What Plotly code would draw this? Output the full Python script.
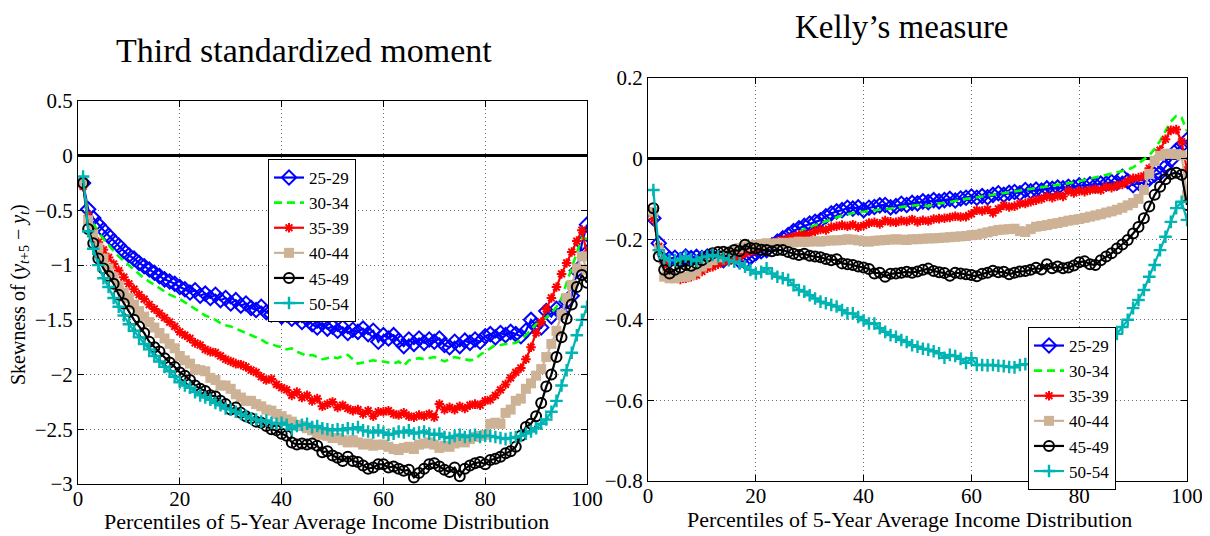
import plotly.graph_objects as go

# ---------------- data ----------------
percentiles = list(range(1, 101))
age_groups = ["25-29", "30-34", "35-39", "40-44", "45-49", "50-54"]

# Left panel: third standardized moment
third_25_29 = [-0.25, -0.49, -0.57, -0.63, -0.68, -0.73, -0.78, -0.82, -0.87, -0.91,
               -0.94, -0.98, -1.01, -1.04, -1.07, -1.10, -1.13, -1.15, -1.17, -1.20,
               -1.22, -1.25, -1.23, -1.28, -1.26, -1.30, -1.27, -1.32, -1.30, -1.35,
               -1.32, -1.37, -1.35, -1.39, -1.41, -1.38, -1.43, -1.45, -1.42, -1.47,
               -1.45, -1.49, -1.47, -1.52, -1.49, -1.54, -1.57, -1.53, -1.58, -1.56,
               -1.60, -1.57, -1.62, -1.59, -1.61, -1.58, -1.63, -1.60, -1.70, -1.64,
               -1.67, -1.64, -1.69, -1.74, -1.68, -1.72, -1.67, -1.71, -1.68, -1.70,
               -1.67, -1.73, -1.75, -1.70, -1.74, -1.69, -1.71, -1.68, -1.70, -1.65,
               -1.63, -1.66, -1.62, -1.64, -1.61, -1.63, -1.65, -1.60, -1.50, -1.55,
               -1.57, -1.42, -1.47, -1.40, -1.44, -1.33, -1.28, -1.05, -0.80, -0.63]
third_30_34 = [-0.28, -0.52, -0.62, -0.70, -0.76, -0.82, -0.87, -0.92, -0.96, -1.00,
               -1.04, -1.08, -1.12, -1.15, -1.18, -1.21, -1.24, -1.27, -1.29, -1.31,
               -1.34, -1.37, -1.40, -1.43, -1.46, -1.48, -1.50, -1.53, -1.55, -1.56,
               -1.58, -1.60, -1.62, -1.64, -1.66, -1.68, -1.71, -1.72, -1.74, -1.75,
               -1.77, -1.76, -1.79, -1.81, -1.83, -1.82, -1.84, -1.86, -1.85, -1.84,
               -1.85, -1.83, -1.82, -1.86, -1.90, -1.89, -1.88, -1.87, -1.88, -1.88,
               -1.89, -1.90, -1.88, -1.92, -1.87, -1.86, -1.85, -1.86, -1.85, -1.84,
               -1.86, -1.88, -1.86, -1.84, -1.85, -1.86, -1.87, -1.86, -1.82, -1.79,
               -1.76, -1.73, -1.73, -1.72, -1.72, -1.71, -1.68, -1.64, -1.59, -1.54,
               -1.51, -1.48, -1.44, -1.38, -1.30, -1.16, -1.02, -0.87, -0.75, -0.76]
third_35_39 = [-0.28, -0.55, -0.70, -0.79, -0.86, -0.93, -0.99, -1.05, -1.11, -1.17,
               -1.22, -1.27, -1.31, -1.36, -1.40, -1.44, -1.48, -1.52, -1.56, -1.61,
               -1.64, -1.67, -1.71, -1.73, -1.77, -1.79, -1.80, -1.83, -1.86, -1.88,
               -1.90, -1.91, -1.93, -1.96, -1.98, -2.02, -2.05, -2.04, -2.09, -2.12,
               -2.14, -2.19, -2.16, -2.21, -2.19, -2.24, -2.22, -2.29, -2.27, -2.25,
               -2.30, -2.28, -2.31, -2.33, -2.32, -2.36, -2.33, -2.38, -2.34, -2.34,
               -2.33, -2.36, -2.37, -2.35, -2.38, -2.39, -2.37, -2.38, -2.36, -2.39,
               -2.27, -2.32, -2.30, -2.32, -2.29, -2.31, -2.28, -2.27, -2.28, -2.24,
               -2.23, -2.19, -2.14, -2.09, -2.03, -1.98, -1.94, -1.86, -1.75, -1.62,
               -1.52, -1.40, -1.30, -1.20, -1.08, -0.98, -0.88, -0.78, -0.68, -0.90]
third_40_44 = [-0.25, -0.59, -0.72, -0.84, -0.94, -1.03, -1.11, -1.19, -1.25, -1.30,
               -1.36, -1.42, -1.47, -1.52, -1.57, -1.62, -1.67, -1.72, -1.76, -1.83,
               -1.87, -1.90, -1.95, -1.96, -1.97, -2.03, -2.05, -2.10, -2.10, -2.13,
               -2.18, -2.21, -2.24, -2.24, -2.27, -2.29, -2.32, -2.33, -2.36, -2.38,
               -2.41, -2.43, -2.46, -2.47, -2.49, -2.51, -2.54, -2.55, -2.56, -2.58,
               -2.58, -2.60, -2.62, -2.60, -2.62, -2.64, -2.63, -2.65, -2.64, -2.64,
               -2.66, -2.68, -2.69, -2.67, -2.66, -2.68, -2.64, -2.63, -2.62, -2.64,
               -2.67, -2.65, -2.66, -2.63, -2.61, -2.62, -2.59, -2.57, -2.56, -2.55,
               -2.45, -2.44, -2.45, -2.35, -2.32, -2.24, -2.22, -2.13, -2.08, -2.01,
               -1.95, -1.84, -1.72, -1.60, -1.45, -1.30, -1.18, -1.03, -0.92, -1.04]
third_45_49 = [-0.25, -0.67, -0.80, -0.94, -1.03, -1.10, -1.17, -1.27, -1.35, -1.42,
               -1.50, -1.56, -1.62, -1.70, -1.75, -1.79, -1.85, -1.89, -1.93, -1.98,
               -2.01, -2.05, -2.10, -2.13, -2.15, -2.19, -2.20, -2.24, -2.27, -2.32,
               -2.30, -2.35, -2.38, -2.40, -2.43, -2.44, -2.47, -2.50, -2.51, -2.54,
               -2.56, -2.62, -2.64, -2.63, -2.64, -2.63, -2.65, -2.71, -2.70, -2.74,
               -2.76, -2.79, -2.75, -2.79, -2.80, -2.83, -2.86, -2.85, -2.82, -2.82,
               -2.85, -2.84, -2.86, -2.88, -2.87, -2.94, -2.90, -2.86, -2.82, -2.81,
               -2.84, -2.87, -2.89, -2.85, -2.93, -2.86, -2.83, -2.81, -2.80, -2.82,
               -2.78, -2.77, -2.75, -2.72, -2.70, -2.66, -2.56, -2.48, -2.45, -2.38,
               -2.26, -2.11, -2.00, -1.84, -1.66, -1.49, -1.36, -1.20, -1.09, -1.16]
third_50_54 = [-0.19, -0.69, -0.85, -1.00, -1.12, -1.20, -1.30, -1.38, -1.46, -1.54,
               -1.60, -1.66, -1.72, -1.77, -1.83, -1.88, -1.93, -1.97, -2.02, -2.07,
               -2.10, -2.12, -2.16, -2.19, -2.21, -2.23, -2.26, -2.28, -2.31, -2.32,
               -2.34, -2.36, -2.38, -2.40, -2.41, -2.43, -2.42, -2.44, -2.45, -2.44,
               -2.46, -2.50, -2.47, -2.46, -2.45, -2.48, -2.47, -2.49, -2.50, -2.51,
               -2.50, -2.51, -2.49, -2.50, -2.48, -2.51, -2.52, -2.53, -2.51, -2.53,
               -2.55, -2.54, -2.52, -2.53, -2.51, -2.54, -2.53, -2.52, -2.54, -2.55,
               -2.54, -2.57, -2.58, -2.56, -2.55, -2.57, -2.56, -2.55, -2.57, -2.56,
               -2.56, -2.57, -2.58, -2.59, -2.58, -2.57, -2.56, -2.54, -2.52, -2.49,
               -2.45, -2.41, -2.34, -2.24, -2.10, -1.96, -1.80, -1.64, -1.50, -1.38]

# Right panel: Kelly's measure
kelly_25_29 = [-0.148, -0.210, -0.235, -0.248, -0.246, -0.252, -0.243, -0.247, -0.244, -0.247,
               -0.243, -0.244, -0.250, -0.252, -0.246, -0.243, -0.254, -0.256, -0.245, -0.235,
               -0.230, -0.227, -0.215, -0.206, -0.198, -0.190, -0.180, -0.173, -0.167, -0.161,
               -0.157, -0.153, -0.143, -0.136, -0.131, -0.128, -0.122, -0.124, -0.121, -0.128,
               -0.122, -0.120, -0.116, -0.115, -0.121, -0.118, -0.112, -0.115, -0.110, -0.111,
               -0.106, -0.108, -0.103, -0.106, -0.103, -0.100, -0.104, -0.099, -0.097, -0.094,
               -0.097, -0.093, -0.096, -0.090, -0.086, -0.090, -0.085, -0.083, -0.086, -0.078,
               -0.081, -0.077, -0.079, -0.074, -0.075, -0.072, -0.074, -0.070, -0.072, -0.066,
               -0.068, -0.064, -0.066, -0.062, -0.062, -0.058, -0.060, -0.045, -0.056, -0.066,
               -0.060, -0.060, -0.050, -0.040, -0.036, -0.020, -0.004, 0.020, 0.032, 0.046]
kelly_30_34 = [-0.148, -0.215, -0.240, -0.255, -0.258, -0.258, -0.255, -0.252, -0.250, -0.250,
               -0.248, -0.247, -0.248, -0.250, -0.248, -0.246, -0.244, -0.240, -0.236, -0.232,
               -0.228, -0.222, -0.216, -0.210, -0.203, -0.196, -0.189, -0.181, -0.175, -0.170,
               -0.165, -0.160, -0.155, -0.150, -0.146, -0.141, -0.138, -0.135, -0.133, -0.132,
               -0.130, -0.128, -0.127, -0.125, -0.124, -0.122, -0.120, -0.119, -0.117, -0.115,
               -0.116, -0.118, -0.114, -0.111, -0.110, -0.108, -0.106, -0.103, -0.100, -0.098,
               -0.096, -0.094, -0.092, -0.090, -0.088, -0.086, -0.084, -0.082, -0.080, -0.078,
               -0.076, -0.074, -0.072, -0.070, -0.068, -0.066, -0.064, -0.062, -0.059, -0.056,
               -0.053, -0.050, -0.047, -0.044, -0.041, -0.038, -0.035, -0.031, -0.027, -0.022,
               -0.012, -0.003, 0.008, 0.024, 0.044, 0.068, 0.092, 0.106, 0.102, 0.068]
kelly_35_39 = [-0.150, -0.218, -0.260, -0.285, -0.297, -0.300, -0.297, -0.293, -0.289, -0.280,
               -0.272, -0.268, -0.262, -0.256, -0.254, -0.252, -0.245, -0.235, -0.231, -0.227,
               -0.220, -0.214, -0.210, -0.206, -0.202, -0.198, -0.194, -0.190, -0.189, -0.188,
               -0.180, -0.176, -0.177, -0.170, -0.168, -0.165, -0.168, -0.164, -0.170, -0.166,
               -0.160, -0.158, -0.162, -0.154, -0.157, -0.158, -0.154, -0.156, -0.151, -0.157,
               -0.153, -0.155, -0.150, -0.149, -0.148, -0.146, -0.143, -0.145, -0.144, -0.137,
               -0.128, -0.130, -0.126, -0.135, -0.125, -0.116, -0.120, -0.118, -0.112, -0.111,
               -0.107, -0.103, -0.100, -0.094, -0.097, -0.092, -0.094, -0.080, -0.085, -0.080,
               -0.082, -0.078, -0.076, -0.078, -0.070, -0.072, -0.067, -0.064, -0.056, -0.049,
               -0.047, -0.043, -0.024, -0.004, 0.021, 0.048, 0.070, 0.072, 0.042, -0.028]
kelly_40_44 = [-0.132, -0.227, -0.293, -0.297, -0.297, -0.294, -0.293, -0.289, -0.280, -0.268,
               -0.260, -0.252, -0.245, -0.239, -0.233, -0.227, -0.222, -0.218, -0.216, -0.214,
               -0.212, -0.210, -0.212, -0.210, -0.209, -0.210, -0.208, -0.206, -0.207, -0.206,
               -0.205, -0.206, -0.204, -0.203, -0.203, -0.202, -0.200, -0.201, -0.203, -0.205,
               -0.206, -0.204, -0.203, -0.202, -0.201, -0.200, -0.201, -0.202, -0.200, -0.200,
               -0.199, -0.198, -0.198, -0.197, -0.196, -0.195, -0.194, -0.193, -0.192, -0.190,
               -0.189, -0.186, -0.183, -0.180, -0.177, -0.176, -0.175, -0.174, -0.180, -0.182,
               -0.175, -0.169, -0.167, -0.165, -0.162, -0.160, -0.157, -0.154, -0.152, -0.150,
               -0.147, -0.144, -0.141, -0.138, -0.134, -0.131, -0.127, -0.122, -0.116, -0.110,
               -0.100, -0.078, -0.038, -0.006, 0.007, 0.012, 0.012, 0.011, 0.008, -0.090]
kelly_45_49 = [-0.123, -0.243, -0.276, -0.285, -0.276, -0.270, -0.264, -0.266, -0.260, -0.252,
               -0.243, -0.235, -0.232, -0.231, -0.233, -0.227, -0.229, -0.214, -0.222, -0.223,
               -0.226, -0.227, -0.230, -0.227, -0.227, -0.232, -0.236, -0.239, -0.236, -0.241,
               -0.243, -0.245, -0.249, -0.252, -0.250, -0.260, -0.262, -0.264, -0.268, -0.270,
               -0.274, -0.285, -0.283, -0.293, -0.286, -0.285, -0.283, -0.281, -0.283, -0.280,
               -0.276, -0.273, -0.279, -0.282, -0.284, -0.291, -0.283, -0.285, -0.287, -0.289,
               -0.292, -0.286, -0.283, -0.278, -0.282, -0.281, -0.287, -0.283, -0.280, -0.279,
               -0.276, -0.271, -0.275, -0.262, -0.272, -0.268, -0.272, -0.270, -0.265, -0.257,
               -0.255, -0.262, -0.264, -0.252, -0.243, -0.235, -0.223, -0.213, -0.202, -0.186,
               -0.170, -0.148, -0.119, -0.090, -0.070, -0.051, -0.038, -0.035, -0.040, -0.115]
kelly_50_54 = [-0.078, -0.227, -0.247, -0.252, -0.252, -0.249, -0.243, -0.250, -0.254, -0.245,
               -0.243, -0.239, -0.243, -0.247, -0.252, -0.256, -0.260, -0.268, -0.276, -0.285,
               -0.281, -0.272, -0.285, -0.293, -0.297, -0.301, -0.314, -0.326, -0.330, -0.339,
               -0.347, -0.355, -0.359, -0.363, -0.367, -0.376, -0.384, -0.384, -0.393, -0.401,
               -0.409, -0.409, -0.421, -0.430, -0.438, -0.442, -0.450, -0.455, -0.463, -0.467,
               -0.472, -0.474, -0.478, -0.483, -0.494, -0.487, -0.490, -0.497, -0.507, -0.495,
               -0.512, -0.512, -0.513, -0.512, -0.514, -0.515, -0.517, -0.518, -0.512, -0.510,
               -0.510, -0.505, -0.505, -0.500, -0.500, -0.498, -0.495, -0.490, -0.488, -0.485,
               -0.480, -0.475, -0.470, -0.465, -0.455, -0.445, -0.435, -0.418, -0.400, -0.371,
               -0.351, -0.326, -0.293, -0.264, -0.227, -0.194, -0.157, -0.123, -0.107, -0.152]

third_series = [third_25_29, third_30_34, third_35_39, third_40_44, third_45_49, third_50_54]
kelly_series = [kelly_25_29, kelly_30_34, kelly_35_39, kelly_40_44, kelly_45_49, kelly_50_54]

x_ticks = [0, 20, 40, 60, 80, 100]

# ---------------- styles ----------------
TAN = "rgb(205,178,150)"
TEAL = "rgb(0,180,180)"
styles = [
    dict(color="#0000FF", dash="solid", mode="lines+markers", symbol="diamond-open", size=11, mlw=2),
    dict(color="#00FF00", dash="8px,5px", mode="lines", symbol=None, size=0, mlw=0),
    dict(color="#FF0000", dash="solid", mode="lines+markers", symbol="asterisk-open", size=8, mlw=2),
    dict(color=TAN, dash="solid", mode="lines+markers", symbol="square", size=10, mlw=0),
    dict(color="#000000", dash="solid", mode="lines+markers", symbol="circle-open", size=10, mlw=2),
    dict(color=TEAL, dash="solid", mode="lines+markers", symbol="cross-thin-open", size=9, mlw=2.4),
]

FONT = "Liberation Serif"

fig = go.Figure()

for series_list, xa, ya, leg in [(third_series, "x", "y", "legend"),
                                 (kelly_series, "x2", "y2", "legend2")]:
    for name, vals, st in zip(age_groups, series_list, styles):
        marker = None
        if st["symbol"]:
            marker = dict(symbol=st["symbol"], size=st["size"], color=st["color"],
                          line=dict(color=st["color"], width=st["mlw"]))
        fig.add_trace(go.Scatter(
            x=percentiles, y=vals, name=name, mode=st["mode"],
            line=dict(color=st["color"], width=2.6 if st["symbol"] is None else 2.2, dash=st["dash"]),
            marker=marker, xaxis=xa, yaxis=ya, legend=leg, showlegend=True,
        ))

W, H = 1210, 536
OFF = 8  # page body margin of the browser
def px_x(p):
    return (p - OFF) / W
def px_y(p):
    return 1 - (p - OFF) / H

axis_common = dict(
    showline=True, linecolor="black", linewidth=1, mirror="allticks",
    ticks="inside", ticklen=6, tickcolor="black", tickwidth=1,
    showgrid=True, gridcolor="rgb(110,110,110)", gridwidth=1, griddash="1px,3px",
    tickfont=dict(family=FONT, size=21, color="black"),
    automargin=False,
)

fig.update_layout(
    width=W, height=H,
    margin=dict(l=0, r=0, t=0, b=0, pad=0, autoexpand=False),
    paper_bgcolor="white", plot_bgcolor="white",
    font=dict(family=FONT, color="black"),
    xaxis=dict(domain=[px_x(78), px_x(587)], range=[0, 100], tickvals=x_ticks,
               zeroline=False, anchor="y", ticklabelstandoff=-4, **axis_common),
    yaxis=dict(domain=[px_y(484), px_y(101)], range=[-3, 0.5], dtick=0.5,
               zeroline=True, zerolinecolor="black", zerolinewidth=3, anchor="x",
               **axis_common),
    xaxis2=dict(domain=[px_x(648), px_x(1187)], range=[0, 100], tickvals=x_ticks,
                zeroline=False, anchor="y2", ticklabelstandoff=-4, **axis_common),
    yaxis2=dict(domain=[px_y(481), px_y(78)], range=[-0.8, 0.2], dtick=0.2,
                zeroline=True, zerolinecolor="black", zerolinewidth=3, anchor="x2",
                **axis_common),
    legend=dict(x=px_x(268), y=px_y(159), xanchor="left", yanchor="top",
                bgcolor="white", bordercolor="black", borderwidth=1,
                font=dict(family=FONT, size=17, color="black"),
                itemwidth=30, tracegroupgap=0),
    legend2=dict(x=px_x(1028), y=px_y(327), xanchor="left", yanchor="top",
                 bgcolor="white", bordercolor="black", borderwidth=1,
                 font=dict(family=FONT, size=17, color="black"),
                 itemwidth=30, tracegroupgap=0),
    showlegend=True,
)

annotations = [
    dict(text="Third standardized moment", x=px_x(304), y=px_y(50), xref="paper", yref="paper",
         showarrow=False, xanchor="center", yanchor="middle",
         font=dict(family=FONT, size=34, color="black")),
    dict(text="Kelly\u2019s measure", x=px_x(902), y=px_y(27), xref="paper", yref="paper",
         showarrow=False, xanchor="center", yanchor="middle",
         font=dict(family=FONT, size=33, color="black")),
    dict(text="Percentiles of 5-Year Average Income Distribution", x=px_x(326), y=px_y(521),
         xref="paper", yref="paper", showarrow=False, xanchor="center", yanchor="middle",
         font=dict(family=FONT, size=22, color="black")),
    dict(text="Percentiles of 5-Year Average Income Distribution", x=px_x(909), y=px_y(519),
         xref="paper", yref="paper", showarrow=False, xanchor="center", yanchor="middle",
         font=dict(family=FONT, size=22, color="black")),
    dict(text="Skewness of (<i>y</i><sub><i>t</i>+5</sub> \u2212 <i>y</i><sub><i>t</i></sub>)",
         x=px_x(19), y=px_y(295), xref="paper", yref="paper", showarrow=False,
         textangle=-90, xanchor="center", yanchor="middle",
         font=dict(family=FONT, size=20, color="black")),
]
fig.update_layout(annotations=annotations)

fig.write_html("out.html")
